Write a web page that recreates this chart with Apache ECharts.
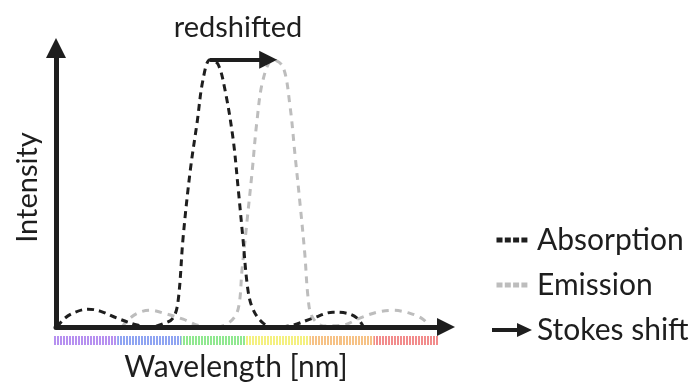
<!DOCTYPE html>
<html>
<head>
<meta charset="utf-8">
<script src="https://cdn.jsdelivr.net/npm/echarts@6/dist/echarts.min.js"></script>
<style>
html,body{margin:0;padding:0;background:#fff;}
#chart{width:689px;height:387px;}
</style>
</head>
<body>
<div id="chart"></div>
<script>
// Absorption spectrum (x: relative wavelength 0-100, y: relative intensity 0-100)
var absorptionX = [0.3, 2.3, 4.9, 8.2, 11.3, 15.6, 20.8, 24.1, 27.4, 30.0, 31.3, 32.6, 34.4, 36.2, 37.7, 39.5, 41.5, 43.3, 45.4, 46.7, 47.9, 49.2, 50.5, 53.1, 56.2, 60.8, 65.9, 71.0, 74.6, 77.2, 78.7];
var absorptionY = [0, 3.2, 5.3, 6.4, 5.7, 3.2, 0.7, 0, 1.1, 3.2, 9.2, 32.2, 55.8, 73.5, 88.7, 95.8, 94.3, 85.2, 67.5, 49.8, 32.2, 13.4, 6.4, 1.4, 0, 0.7, 3.2, 5.3, 4.9, 3.2, 0.4];
// Emission spectrum
var emissionX = [16.9, 19.0, 21.5, 24.1, 28.5, 32.6, 36.9, 41.3, 44.6, 46.7, 47.7, 49.0, 50.3, 51.5, 53.1, 55.6, 58.2, 60.0, 61.3, 62.6, 63.8, 64.6, 65.6, 68.5, 73.6, 77.9, 82.3, 86.4, 90.8, 94.1, 95.9];
var emissionY = [0, 3.2, 5.3, 6.0, 4.6, 2.8, 0.4, 0, 1.8, 6.4, 20.5, 38.2, 55.8, 73.5, 88.7, 95.8, 93.3, 79.2, 61.5, 43.8, 26.1, 11.0, 3.9, 0.4, 0.7, 3.2, 5.3, 6.0, 4.9, 2.8, 0];
// Stokes shift arrow: from absorption peak towards emission peak
var stokesFrom = [39.5, 95.8];
var stokesTo = [54.4, 95.8];
// Spectrum colour bands under the wavelength axis
var bands = ['violet', 'blue', 'green', 'yellow', 'orange', 'red'];
var bandColors = ['#b690f0', '#8fa4f2', '#90e890', '#f4f080', '#f6c286', '#f28c8c'];
var bandValues = [1, 1, 1, 1, 1, 1];
var stripeCount = 128;

var labels = {
  title: 'redshifted',
  xName: 'Wavelength [nm]',
  yName: 'Intensity',
  absorption: 'Absorption',
  emission: 'Emission',
  stokes: 'Stokes shift'
};

function zip(xs, ys) { return xs.map(function (x, i) { return [x, ys[i]]; }); }

var FONT = 'Lato';
var INK = '#1e1e1e';
var GREY = '#bdbdbd';
var DOTS_ICON = 'path://M0 0 M40 16 M4.5 5.5h6v5h-6z M12.8 5.5h6v5h-6z M21.1 5.5h6v5h-6z M29.4 5.5h6v5h-6z';
var ARROW_ICON = 'path://M0 0 M40 16 M0 6h27v4h-27z M25 1L40 8L25 15z';

var chart = echarts.init(document.getElementById('chart'), null, {renderer: 'canvas'});
chart.setOption({
  animation: false,
  backgroundColor: '#fff',
  textStyle: {fontFamily: FONT},
  grid: [
    {left: 56, top: 48, width: 390, height: 283, containLabel: false},
    {left: 53, top: 336, width: 385, height: 9, containLabel: false}
  ],
  graphic: [
    {
      type: 'text', x: 238, y: 13, z: 20,
      style: {text: labels.title, font: '29px Lato', fill: INK, textAlign: 'center', textVerticalAlign: 'top'}
    }
  ],
  xAxis: [
    {
      gridIndex: 0, type: 'value', min: 0, max: 100,
      name: labels.xName, nameLocation: 'middle', nameGap: 25,
      nameTextStyle: {fontSize: 30, color: INK, fontFamily: FONT, padding: [0, 30, 0, 0]},
      axisLine: {show: true, lineStyle: {color: INK, width: 5}, symbol: ['none', 'triangle'], symbolSize: [18, 18]},
      axisTick: {show: false}, axisLabel: {show: false}, splitLine: {show: false},
      z: 10
    },
    {
      gridIndex: 1, type: 'category', data: bands, boundaryGap: true,
      axisLine: {show: false}, axisTick: {show: false}, axisLabel: {show: false}, splitLine: {show: false}
    },
    {
      gridIndex: 1, type: 'value', min: 0, max: stripeCount, interval: 1,
      axisLine: {show: false},
      axisTick: {show: true, inside: true, length: 9, lineStyle: {color: '#ffffff', width: 1}},
      axisLabel: {show: false}, splitLine: {show: false},
      z: 8
    }
  ],
  yAxis: [
    {
      gridIndex: 0, type: 'value', min: 0, max: 100,
      name: labels.yName, nameLocation: 'middle', nameGap: 14, nameRotate: 90,
      nameTextStyle: {fontSize: 29, color: INK, fontFamily: FONT},
      axisLine: {show: true, lineStyle: {color: INK, width: 5}, symbol: ['none', 'triangle'], symbolSize: [20, 20]},
      axisTick: {show: false}, axisLabel: {show: false}, splitLine: {show: false},
      z: 10
    },
    {
      gridIndex: 1, type: 'value', min: 0, max: 1, show: false
    }
  ],
  legend: {
    orient: 'vertical',
    left: 487, top: 220,
    itemWidth: 40, itemHeight: 16, itemGap: 15,
    textStyle: {fontSize: 30, color: INK, fontFamily: FONT, lineHeight: 30},
    data: [
      {name: labels.absorption, icon: DOTS_ICON, itemStyle: {color: INK, borderWidth: 0}},
      {name: labels.emission, icon: DOTS_ICON, itemStyle: {color: GREY, borderWidth: 0}},
      {name: labels.stokes, icon: ARROW_ICON, itemStyle: {color: INK, borderWidth: 0}}
    ],
    selectedMode: false
  },
  series: [
    {
      name: labels.emission, type: 'line', xAxisIndex: 0, yAxisIndex: 0,
      data: zip(emissionX, emissionY), smooth: 0.35, showSymbol: false, symbol: 'none',
      itemStyle: {color: GREY},
      lineStyle: {color: GREY, width: 3, type: [7, 6]},
      z: 3
    },
    {
      name: labels.absorption, type: 'line', xAxisIndex: 0, yAxisIndex: 0,
      data: zip(absorptionX, absorptionY), smooth: 0.35, showSymbol: false, symbol: 'none',
      itemStyle: {color: INK},
      lineStyle: {color: INK, width: 3, type: [7, 5]},
      z: 4
    },
    {
      name: labels.stokes, type: 'lines', coordinateSystem: 'cartesian2d', xAxisIndex: 0, yAxisIndex: 0,
      symbol: ['none', 'triangle'], symbolSize: [16, 18],
      lineStyle: {color: INK, width: 4, opacity: 1, curveness: 0},
      data: [{coords: [stokesFrom, stokesTo]}],
      z: 5
    },
    {
      name: 'spectrum', type: 'bar', xAxisIndex: 1, yAxisIndex: 1,
      barCategoryGap: '0%',
      data: bandValues.map(function (v, i) { return {value: v, itemStyle: {color: bandColors[i]}}; }),
      silent: true, z: 1
    }
  ]
});
</script>
</body>
</html>
